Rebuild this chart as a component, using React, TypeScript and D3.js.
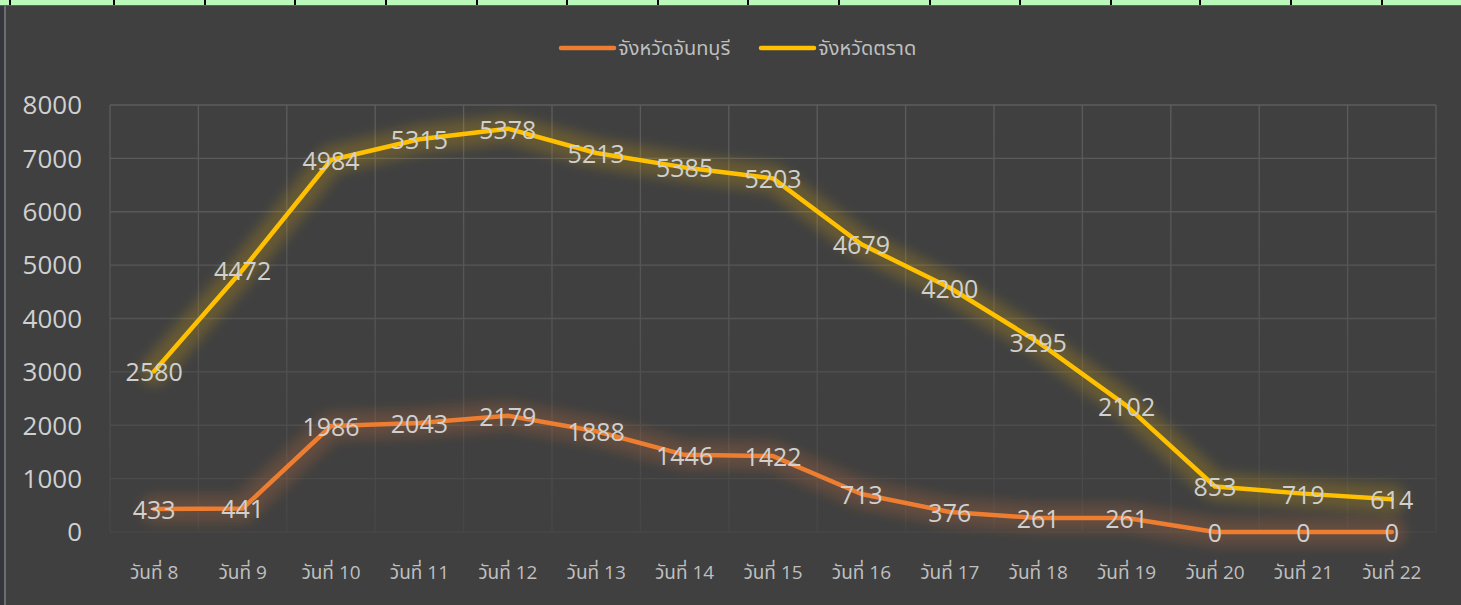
import React from "react";
import * as d3 from "d3";

const categories = ["วันที่ 8", "วันที่ 9", "วันที่ 10", "วันที่ 11", "วันที่ 12", "วันที่ 13", "วันที่ 14", "วันที่ 15", "วันที่ 16", "วันที่ 17", "วันที่ 18", "วันที่ 19", "วันที่ 20", "วันที่ 21", "วันที่ 22"];
const seriesNames = ["จังหวัดจันทบุรี", "จังหวัดตราด"];
const chanthaburi = [433, 441, 1986, 2043, 2179, 1888, 1446, 1422, 713, 376, 261, 261, 0, 0, 0];
const trat = [2580, 4472, 4984, 5315, 5378, 5213, 5385, 5203, 4679, 4200, 3295, 2102, 853, 719, 614];
const yTicks = [0, 1000, 2000, 3000, 4000, 5000, 6000, 7000, 8000];
const colors = ["#ED7D31", "#FFC000"];

const W = 1461;
const H = 605;
const plot = { left: 110, right: 1436, top: 105, bottom: 532 };
const cellSeps = [9, 113, 204, 294, 385, 476, 566, 657, 747, 838, 929, 1019, 1110, 1199, 1290, 1381];

export default function App() {
  const x = d3.scaleBand<string>().domain(categories).range([plot.left, plot.right]).padding(0);
  const y = d3.scaleLinear().domain([0, 8000]).range([plot.bottom, plot.top]);
  const cx = (c: string) => (x(c) as number) + x.bandwidth() / 2;

  // stacked line
  const stacked = [chanthaburi, chanthaburi.map((v, i) => v + trat[i])];
  const labels = [chanthaburi, trat];
  const line = d3.line<number>().x((_, i) => cx(categories[i])).y((v) => y(v));

  const font = "'Open Sans', 'Noto Sans', 'Noto Sans Thai', sans-serif";

  return (
    <svg width={W} height={H} style={{ position: "absolute", left: 0, top: 0, display: "block" }} xmlns="http://www.w3.org/2000/svg">
      <defs>
        <filter id="glow" x="-10%" y="-40%" width="120%" height="180%">
          <feGaussianBlur stdDeviation="6" />
        </filter>
        <linearGradient id="gridGrad" gradientUnits="userSpaceOnUse" x1={0} y1={plot.top} x2={0} y2={plot.bottom}>
          <stop offset="0" stopColor="#5c5c5c" />
          <stop offset="0.45" stopColor="#555555" />
          <stop offset="1" stopColor="#464646" />
        </linearGradient>
      </defs>
      <rect x={0} y={0} width={W} height={H} fill="#404040" />
      {/* spreadsheet strip */}
      <rect x={0} y={0} width={W} height={5} fill="#b9f8b9" />
      <rect x={0} y={5} width={W} height={1} fill="#5b655b" />
      {cellSeps.map((s) => (
        <rect key={s} x={s} y={0} width={2} height={5} fill="#000" />
      ))}
      <rect x={0} y={6} width={4} height={H - 6} fill="#34373b" />
      <rect x={4} y={6} width={2} height={H - 6} fill="#6a6e73" />

      {/* grid */}
      {yTicks.map((t) => (
        <line key={"h" + t} x1={plot.left} x2={plot.right} y1={y(t)} y2={y(t)} stroke="url(#gridGrad)" strokeWidth={1.3} />
      ))}
      {categories.map((c) => (
        <rect key={"v" + c} x={(x(c) as number) - 0.65} y={plot.top} width={1.3} height={plot.bottom - plot.top} fill="url(#gridGrad)" />
      ))}
      <rect x={plot.right - 0.65} y={plot.top} width={1.3} height={plot.bottom - plot.top} fill="url(#gridGrad)" />

      {/* y tick labels */}
      {yTicks.map((t) => (
        <text key={"yl" + t} x={82} y={y(t)} dy="0.36em" textAnchor="end" fontFamily={font} fontSize={26} fill="#d0d0d0">
          {t}
        </text>
      ))}

      {/* x labels */}
      {categories.map((c) => (
        <text key={"xl" + c} x={cx(c)} y={579} textAnchor="middle" fontFamily={font} fontSize={19} fill="#bfbfbf">
          {c}
        </text>
      ))}

      {/* glows */}
      {stacked.map((vals, si) => (
        <path key={"g" + si} d={line(vals) as string} fill="none" stroke={colors[si]} strokeOpacity={0.2} strokeWidth={28} strokeLinejoin="round" strokeLinecap="round" filter="url(#glow)" />
      ))}
      {/* lines */}
      {stacked.map((vals, si) => (
        <path key={"l" + si} d={line(vals) as string} fill="none" stroke={colors[si]} strokeWidth={4.5} strokeLinejoin="round" strokeLinecap="round" />
      ))}

      {/* data labels */}
      {stacked.map((vals, si) =>
        vals.map((v, i) => (
          <text key={"d" + si + "-" + i} x={cx(categories[i])} y={y(v)} dy="0.4em" textAnchor="middle" fontFamily={font} fontSize={25} fill="#d0d0d0">
            {labels[si][i]}
          </text>
        ))
      )}

      {/* legend */}
      {seriesNames.map((n, i) => {
        const lx = i === 0 ? 560 : 760;
        return (
          <g key={"lg" + i}>
            <line x1={lx + 1} x2={lx + 54} y1={48} y2={48} stroke={colors[i]} strokeWidth={4.5} strokeLinecap="round" />
            <text x={lx + 58} y={48} dy="0.35em" fontFamily={font} fontSize={20} fill="#bfbfbf">
              {n}
            </text>
          </g>
        );
      })}
    </svg>
  );
}
